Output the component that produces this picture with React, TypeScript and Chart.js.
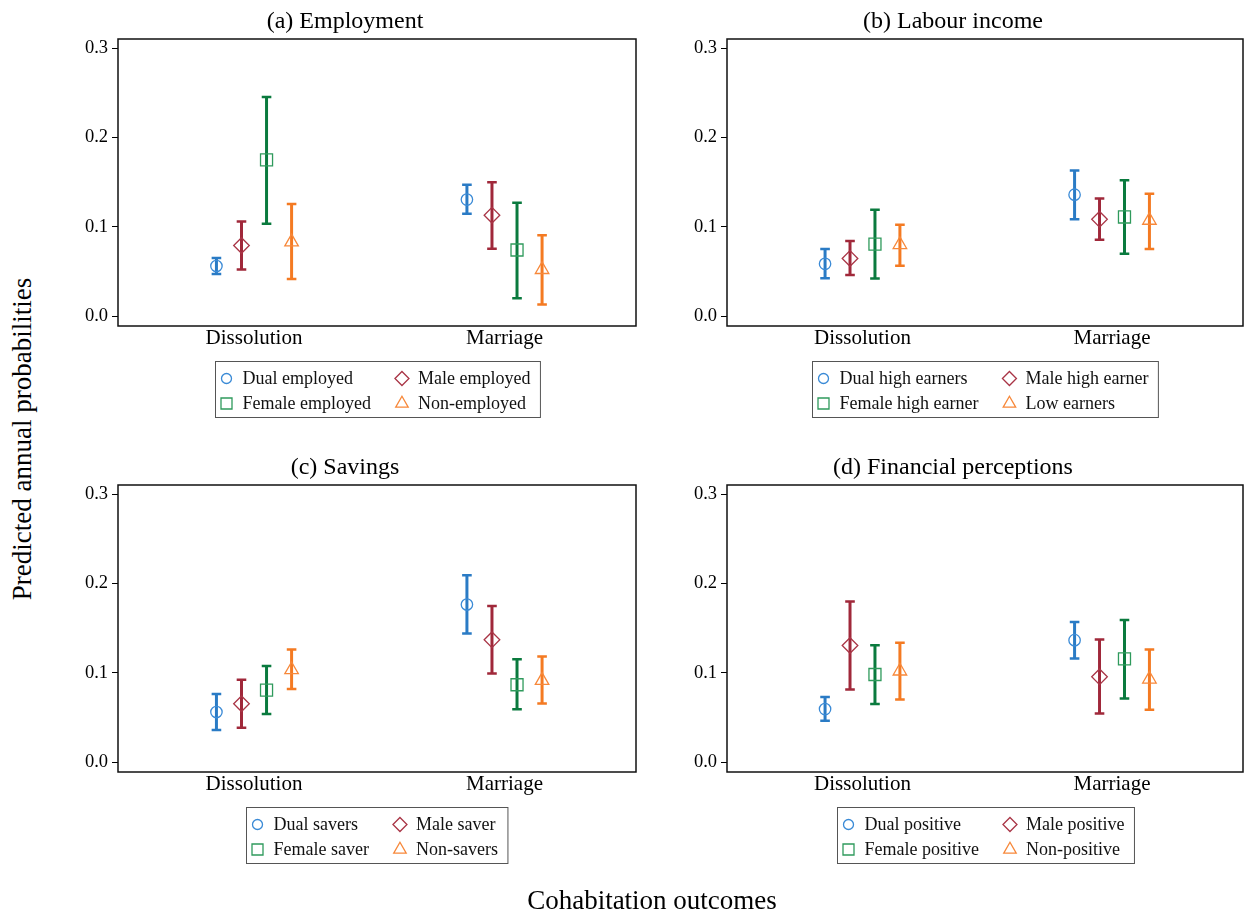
import React, { useEffect, useRef } from "react";
import { Chart, registerables } from "chart.js";
Chart.register(...registerables);

const FONT = '"Liberation Serif", "DejaVu Serif", serif';

const categories = ["Dissolution", "Marriage"];
const groupOffsets = [-0.15, -0.05, 0.05, 0.15];
const barColors = ["#2a7bc5", "#a0283a", "#0a7a3e", "#f47a22"];
const markerColors = ["#3a8ad6", "#a93546", "#2f9a5c", "#f7883a"];
const markerStyles = ["circle", "rectRot", "rect", "triangle"];
const markerRadii = [5.7, 7.8, 8.5, 7.8];
const yTicks = [0, 0.1, 0.2, 0.3];

// (a) Employment — order: Dual, Male, Female, Non
const employmentTitle = "(a) Employment";
const employmentLabels = ["Dual employed", "Male employed", "Female employed", "Non-employed"];
const employmentMid = [[0.056, 0.1305], [0.079, 0.113], [0.175, 0.074], [0.083, 0.052]];
const employmentLow = [[0.047, 0.1145], [0.052, 0.0755], [0.1035, 0.02], [0.0415, 0.013]];
const employmentHigh = [[0.065, 0.147], [0.106, 0.15], [0.2455, 0.127], [0.1255, 0.0905]];

// (b) Labour income
const incomeTitle = "(b) Labour income";
const incomeLabels = ["Dual high earners", "Male high earner", "Female high earner", "Low earners"];
const incomeMid = [[0.0585, 0.136], [0.0645, 0.1084], [0.0806, 0.111], [0.08, 0.1072]];
const incomeLow = [[0.0424, 0.1084], [0.0461, 0.0855], [0.042, 0.0697], [0.0562, 0.075]];
const incomeHigh = [[0.075, 0.1631], [0.084, 0.1316], [0.1192, 0.1522], [0.1024, 0.1369]];

// (c) Savings
const savingsTitle = "(c) Savings";
const savingsLabels = ["Dual savers", "Male saver", "Female saver", "Non-savers"];
const savingsMid = [[0.056, 0.1765], [0.0653, 0.137], [0.0806, 0.0866], [0.1034, 0.0914]];
const savingsLow = [[0.0358, 0.144], [0.0384, 0.0993], [0.0537, 0.059], [0.0817, 0.0657]];
const savingsHigh = [[0.0761, 0.2093], [0.0922, 0.175], [0.1075, 0.1153], [0.1261, 0.1183]];

// (d) Financial perceptions
const perceptionTitle = "(d) Financial perceptions";
const perceptionLabels = ["Dual positive", "Male positive", "Female positive", "Non-positive"];
const perceptionMid = [[0.0593, 0.1366], [0.1306, 0.0955], [0.0981, 0.1157], [0.1019, 0.0929]];
const perceptionLow = [[0.0463, 0.116], [0.0813, 0.0545], [0.065, 0.0713], [0.0701, 0.0586]];
const perceptionHigh = [[0.073, 0.157], [0.1799, 0.1373], [0.131, 0.1593], [0.1336, 0.126]];

function drawLegendMarker(ctx: CanvasRenderingContext2D, idx: number, x: number, y: number) {
  ctx.save();
  ctx.strokeStyle = markerColors[idx];
  ctx.lineWidth = 1.3;
  ctx.beginPath();
  if (idx === 0) {
    ctx.arc(x, y, 5, 0, Math.PI * 2);
  } else if (idx === 1) {
    const r = 7;
    ctx.moveTo(x - r, y); ctx.lineTo(x, y - r); ctx.lineTo(x + r, y); ctx.lineTo(x, y + r); ctx.closePath();
  } else if (idx === 2) {
    ctx.rect(x - 5.5, y - 5.5, 11, 11);
  } else {
    const r = 7.2;
    ctx.moveTo(x, y - r); ctx.lineTo(x + r * 0.866, y + r * 0.5); ctx.lineTo(x - r * 0.866, y + r * 0.5); ctx.closePath();
  }
  ctx.stroke();
  ctx.restore();
}

type PanelProps = {
  title: string; labels: string[]; mid: number[][]; low: number[][]; high: number[][];
  left: number; top: number; width: number; height: number; padRight: number;
};

function Panel(p: PanelProps) {
  const ref = useRef<HTMLCanvasElement | null>(null);
  useEffect(() => {
    if (!ref.current) return;
    const decor = {
      id: "decor",
      beforeDatasetsDraw(chart: any) {
        const { ctx } = chart;
        const xs = chart.scales.x, ys = chart.scales.y;
        p.mid.forEach((_, g) => {
          categories.forEach((__, i) => {
            const px = xs.getPixelForValue(i + 1 + groupOffsets[g]);
            const yl = ys.getPixelForValue(p.low[g][i]);
            const yh = ys.getPixelForValue(p.high[g][i]);
            ctx.save();
            ctx.strokeStyle = barColors[g];
            ctx.lineWidth = 3;
            ctx.beginPath(); ctx.moveTo(px, yl); ctx.lineTo(px, yh); ctx.stroke();
            ctx.lineWidth = 2.5;
            ctx.beginPath();
            ctx.moveTo(px - 4.8, yl); ctx.lineTo(px + 4.8, yl);
            ctx.moveTo(px - 4.8, yh); ctx.lineTo(px + 4.8, yh);
            ctx.stroke();
            ctx.restore();
          });
        });
      },
      afterDraw(chart: any) {
        const { ctx, chartArea: a } = chart;
        ctx.save();
        ctx.strokeStyle = "#111";
        ctx.lineWidth = 1.5;
        ctx.strokeRect(a.left, a.top, a.right - a.left, a.bottom - a.top);
        // title
        ctx.fillStyle = "#000";
        ctx.font = `24px ${FONT}`;
        ctx.textAlign = "center";
        ctx.textBaseline = "alphabetic";
        ctx.fillText(p.title, (a.left + a.right) / 2 - 32, 28);
        // legend
        ctx.font = `18px ${FONT}`;
        const col1 = [p.labels[0], p.labels[2]];
        const col2 = [p.labels[1], p.labels[3]];
        const w1 = Math.max(...col1.map((t) => ctx.measureText(t).width));
        const w2 = Math.max(...col2.map((t) => ctx.measureText(t).width));
        const W = 27 + w1 + 31 + 16 + w2 + 10;
        const cx = (a.left + a.right) / 2;
        const lx = Math.round(cx - W / 2) + 0.5;
        const ly = a.bottom + 35.5;
        ctx.strokeStyle = "#555";
        ctx.lineWidth = 1;
        ctx.strokeRect(lx, ly, W, 56);
        const rows = [ly + 17, ly + 42];
        const c2m = lx + 27 + w1 + 31;
        ctx.textAlign = "left";
        ctx.textBaseline = "middle";
        ctx.fillStyle = "#111";
        [[0, 2], [1, 3]].forEach((pair, col) => {
          pair.forEach((g, r) => {
            const mx = col === 0 ? lx + 11 : c2m;
            const tx = col === 0 ? lx + 27 : c2m + 16;
            drawLegendMarker(ctx, g, mx, rows[r]);
            ctx.fillText(p.labels[g], tx, rows[r] + 1);
          });
        });
        ctx.restore();
      },
    };
    const chart = new Chart(ref.current, {
      type: "scatter",
      data: {
        datasets: p.mid.map((m, g) => ({
          label: p.labels[g],
          data: m.map((v, i) => ({ x: i + 1 + groupOffsets[g], y: v })),
          pointStyle: markerStyles[g] as any,
          pointRadius: markerRadii[g],
          pointBorderWidth: 1.3,
          pointBorderColor: markerColors[g],
          pointBackgroundColor: "rgba(0,0,0,0)",
          showLine: false,
        })),
      },
      options: {
        animation: false,
        responsive: false,
        maintainAspectRatio: false,
        events: [],
        layout: { autoPadding: false, padding: { top: 39, left: 0, right: p.padRight, bottom: 74 } },
        plugins: { legend: { display: false }, title: { display: false }, tooltip: { enabled: false } },
        scales: {
          x: {
            type: "linear",
            min: 0.457,
            max: 2.525,
            afterBuildTicks: (axis: any) => { axis.ticks = [{ value: 1 }, { value: 2 }]; },
            afterFit: (s: any) => { s.height = 40; },
            ticks: {
              callback: (v: any) => categories[Math.round(Number(v)) - 1],
              font: { family: FONT, size: 21 },
              color: "#000",
              padding: 0,
              maxRotation: 0,
              autoSkip: false,
            },
            grid: { display: false, drawTicks: false },
            border: { display: false },
          },
          y: {
            min: -0.0112,
            max: 0.3105,
            afterBuildTicks: (axis: any) => { axis.ticks = yTicks.map((v) => ({ value: v })); },
            afterFit: (s: any) => { s.width = 58; },
            ticks: {
              callback: (v: any) => Number(v).toFixed(1),
              font: { family: FONT, size: 18.5 },
              color: "#000",
              padding: 4,
              autoSkip: false,
            },
            grid: { display: true, drawOnChartArea: false, drawTicks: true, tickLength: 6, color: "#000", lineWidth: 1 },
            border: { display: false },
          },
        },
      },
      plugins: [decor],
    } as any);
    return () => chart.destroy();
  }, []);
  return (
    <canvas
      ref={ref}
      width={p.width}
      height={p.height}
      style={{ position: "absolute", left: p.left, top: p.top, width: p.width, height: p.height }}
    />
  );
}

export default function App() {
  return (
    <div style={{ position: "absolute", left: 0, top: 0, width: 1244, height: 913, background: "#fff", fontFamily: FONT, overflow: "hidden" }}>
      <Panel title={employmentTitle} labels={employmentLabels} mid={employmentMid} low={employmentLow} high={employmentHigh}
        left={60} top={0} width={590} height={440} padRight={14} />
      <Panel title={incomeTitle} labels={incomeLabels} mid={incomeMid} low={incomeLow} high={incomeHigh}
        left={669} top={0} width={575} height={440} padRight={1} />
      <Panel title={savingsTitle} labels={savingsLabels} mid={savingsMid} low={savingsLow} high={savingsHigh}
        left={60} top={446} width={590} height={440} padRight={14} />
      <Panel title={perceptionTitle} labels={perceptionLabels} mid={perceptionMid} low={perceptionLow} high={perceptionHigh}
        left={669} top={446} width={575} height={440} padRight={1} />
      <div style={{ position: "absolute", left: 22 - 250, top: 439 - 16, width: 500, height: 32, lineHeight: "32px", textAlign: "center", fontSize: 27, color: "#000", transform: "rotate(-90deg)", whiteSpace: "nowrap" }}>
        Predicted annual probabilities
      </div>
      <div style={{ position: "absolute", left: 652 - 250, top: 900 - 16, width: 500, height: 32, lineHeight: "32px", textAlign: "center", fontSize: 27, color: "#000", whiteSpace: "nowrap" }}>
        Cohabitation outcomes
      </div>
    </div>
  );
}
